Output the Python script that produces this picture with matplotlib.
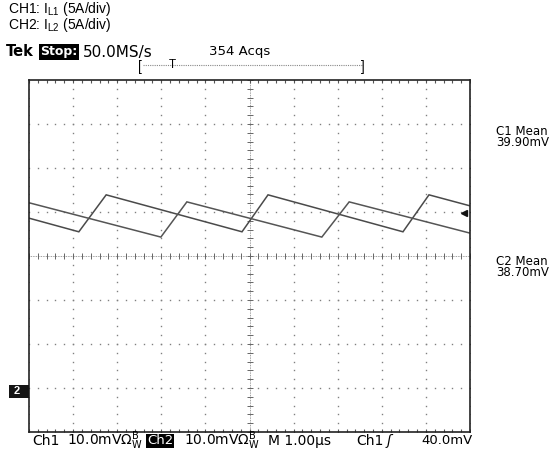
import matplotlib
matplotlib.use("Agg")
import matplotlib.pyplot as plt
from matplotlib.patches import Rectangle
import numpy as np

plt.rcParams["mathtext.fontset"] = "custom"
plt.rcParams["mathtext.rm"] = "Liberation Sans"
plt.rcParams["mathtext.it"] = "Liberation Sans:italic"
plt.rcParams["mathtext.bf"] = "Liberation Sans:bold"

# ---- data (time in µs = divisions, current in divisions) ----
t_il1 = [0.0, 1.13, 1.75, 4.83, 5.42, 8.48, 9.07, 10.0]
i_il1 = [0.86, 0.55, 1.39, 0.55, 1.39, 0.55, 1.39, 1.14]
t_il2 = [0.0, 2.99, 3.58, 6.64, 7.26, 10.0]
i_il2 = [1.21, 0.43, 1.23, 0.43, 1.23, 0.52]

header_text = "CH1: I$_{\\mathregular{L1}}$ (5A/div)\nCH2: I$_{\\mathregular{L2}}$ (5A/div)"
meas_labels = ["C1 Mean", "C2 Mean"]
meas_values = ["39.90mV", "38.70mV"]

W, H = 558, 453
fig = plt.figure(figsize=(W / 100, H / 100), dpi=100)
fig.patch.set_facecolor("white")

L, R, T, B = 29, 470, 80, 432
ax = fig.add_axes([L / W, 1 - B / H, (R - L) / W, (B - T) / H])
ax.set_xlim(0, 10)
ax.set_ylim(-4, 4)
ax.set_xticks([])
ax.set_yticks([])
for s in ax.spines.values():
    s.set_color("#222222")
    s.set_linewidth(1.2)

gc = "#808080"
fine_x = np.arange(0, 10.001, 0.2)
fine_y = np.arange(-4, 4.001, 0.2)
for gx in range(1, 10):
    if gx == 5:
        continue
    ax.plot(np.full_like(fine_y, gx), fine_y, ls="none", marker="s", ms=1.0, mew=0, color=gc)
for gy in range(-3, 4):
    if gy == 0:
        continue
    ax.plot(fine_x, np.full_like(fine_x, gy), ls="none", marker="s", ms=1.0, mew=0, color=gc)

# center cross with ticks
ax.axhline(0, color=gc, lw=0.6, ls=(0, (1, 1)))
ax.axvline(5, color=gc, lw=0.6, ls=(0, (1, 1)))
ax.plot(fine_x, np.zeros_like(fine_x), ls="none", marker="|", ms=4.5, mew=0.7, color="#666666")
ax.plot(np.full_like(fine_y, 5), fine_y, ls="none", marker="_", ms=4.5, mew=0.7, color="#666666")

# border ticks (inward)
tc = "#555555"
ax.plot(fine_x, np.full_like(fine_x, 4), ls="none", marker=3, ms=2.5, mew=0.8, color=tc)
ax.plot(fine_x, np.full_like(fine_x, -4), ls="none", marker=2, ms=2.5, mew=0.8, color=tc)
ax.plot(np.full_like(fine_y, 0), fine_y, ls="none", marker=0, ms=2.5, mew=0.8, color=tc)
ax.plot(np.full_like(fine_y, 10), fine_y, ls="none", marker=1, ms=2.5, mew=0.8, color=tc)

# waveforms
ax.plot(t_il1, i_il1, color="#4a4a4a", lw=1.1, solid_joinstyle="miter")
ax.plot(t_il2, i_il2, color="#555555", lw=1.1, solid_joinstyle="miter")

# trigger level arrow on right
ax.plot([9.87], [0.98], marker="<", ms=5, color="#111111", clip_on=False)


def fx(x):
    return x / W


def fy(y):
    return 1 - y / H


sans = "Liberation Sans"
scope = "DejaVu Sans"

fig.text(fx(8), fy(17), header_text, fontsize=10, family=sans, va="center", ha="left",
         linespacing=0.8)

fig.text(fx(6), fy(52), "Tek", fontsize=10.5, family=scope, weight="bold", va="center")
fig.text(fx(40), fy(52), "Stop:", fontsize=9, family=scope, weight="bold", va="center",
         color="white", bbox=dict(boxstyle="square,pad=0.12", fc="black", ec="none"))
fig.text(fx(83), fy(52), "50.0MS/s", fontsize=11, family=scope, va="center")
fig.text(fx(209), fy(52), "354 Acqs", fontsize=9.5, family=scope, va="center")

# trigger position bar
fig.text(fx(138), fy(67), "[", fontsize=10, family=sans, va="center")
fig.text(fx(361), fy(67), "]", fontsize=10, family=sans, va="center")
fig.text(fx(172), fy(65), "T", fontsize=8.5, family=sans, va="center", ha="center")
fig.add_artist(plt.Line2D([fx(143), fx(362)], [fy(65), fy(65)], color="#888888", lw=0.8,
                          ls=(0, (1, 1))))

# measurements
fig.text(fx(496), fy(137), meas_labels[0] + "\n" + meas_values[0], fontsize=8.5, family=scope,
         va="center", linespacing=0.85)
fig.text(fx(496), fy(267), meas_labels[1] + "\n" + meas_values[1], fontsize=8.5, family=scope,
         va="center", linespacing=0.85)

# ground marker
fig.add_artist(Rectangle((fx(9), fy(398)), fx(20), 13 / H, fc="#151515", ec="none"))
fig.text(fx(14), fy(391), "2", fontsize=8, family=sans, weight="bold", va="center", color="white")

# bottom status line
by = fy(441)
bfs = 10
fig.text(fx(32), by, "Ch1", fontsize=bfs, family=scope, va="center")
fig.text(fx(67), by, "10.0mVΩ$^{\\mathregular{B}}_{\\mathregular{W}}$", fontsize=bfs,
         family=scope, va="center")
fig.text(fx(147), by, "Ch2", fontsize=9.5, family=scope, va="center", color="white",
         bbox=dict(boxstyle="square,pad=0.05", fc="black", ec="none"))
fig.text(fx(184), by, "10.0mVΩ$^{\\mathregular{B}}_{\\mathregular{W}}$", fontsize=bfs,
         family=scope, va="center")
fig.text(fx(268), by, "M 1.00µs", fontsize=bfs, family=scope, va="center")
fig.text(fx(356), by, "Ch1", fontsize=bfs, family=scope, va="center")
fig.text(fx(387), by, "ʃ", fontsize=bfs, family=scope, va="center", style="italic")
fig.text(fx(421), by, "40.0mV", fontsize=9.5, family=scope, va="center")

fig.savefig("out.png", dpi=100, facecolor="white")
